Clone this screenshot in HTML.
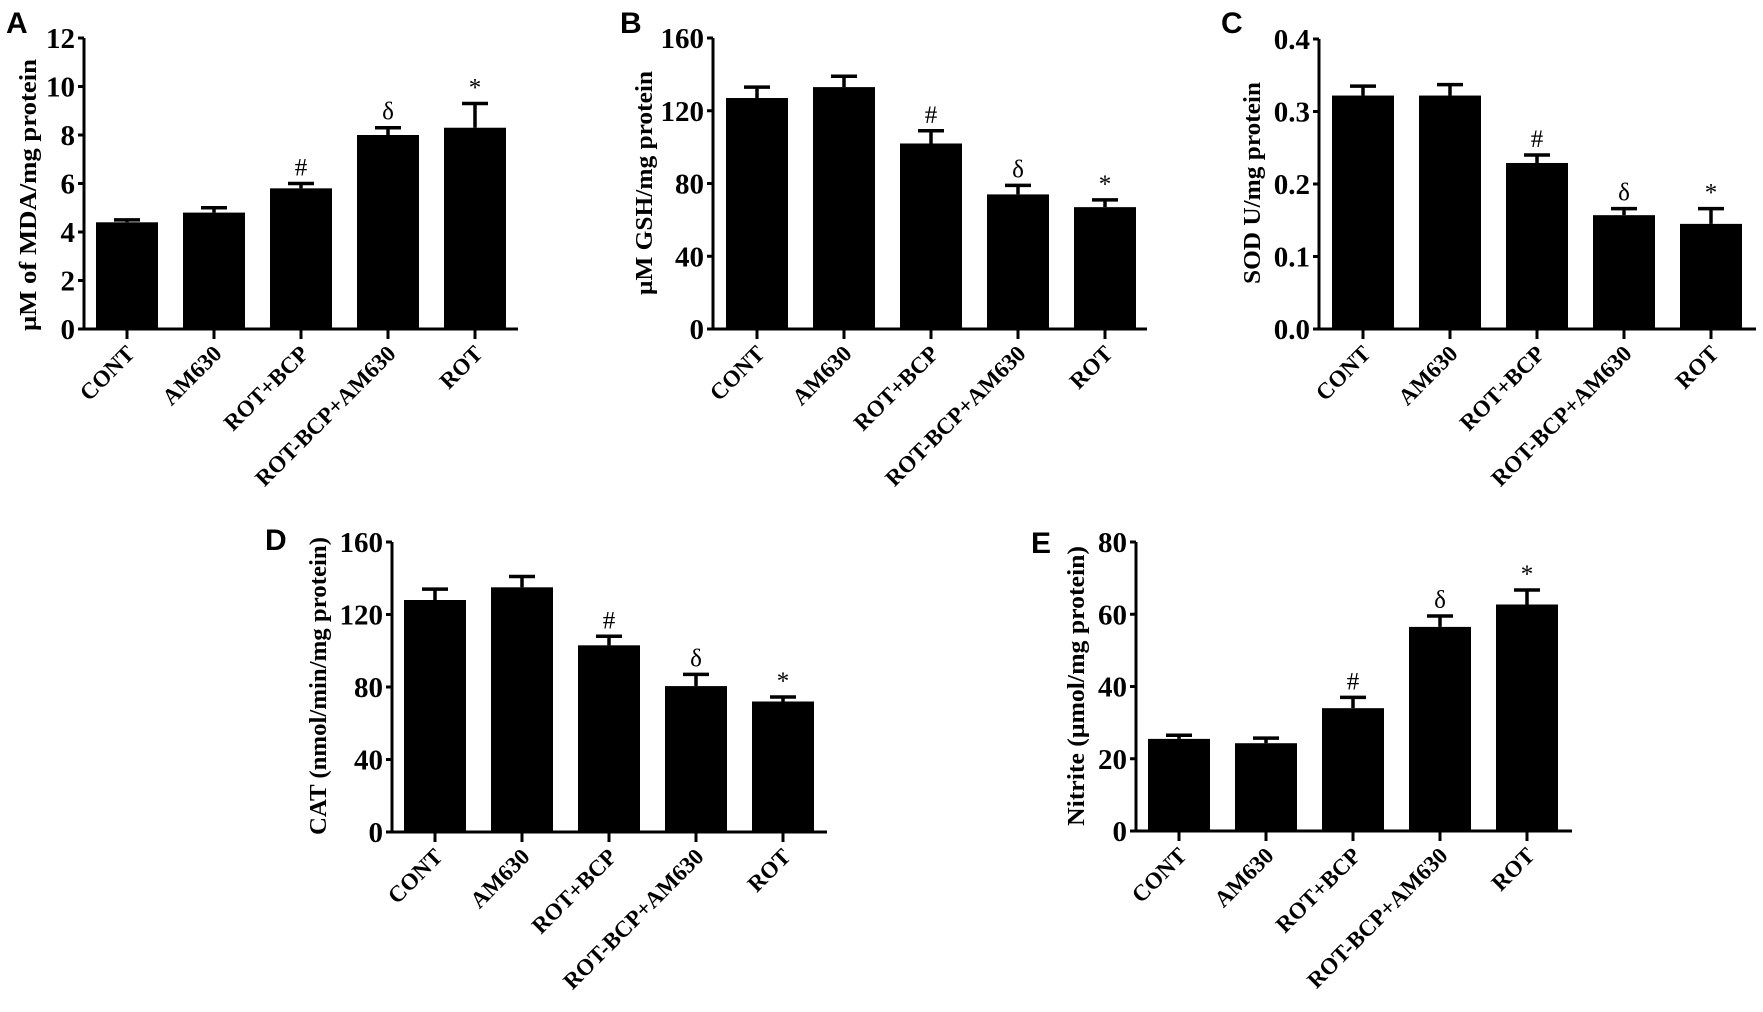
<!DOCTYPE html>
<html><head><meta charset="utf-8"><style>
html,body{margin:0;padding:0;background:#fff;}
svg{display:block;}
text{font-family:"Liberation Serif",serif;}
</style></head><body>
<svg id="fig" width="1763" height="1012" viewBox="0 0 1763 1012" xmlns="http://www.w3.org/2000/svg"></svg>
<script>
const categories = ["CONT","AM630","ROT+BCP","ROT-BCP+AM630","ROT"];
const marks = ["","","#","\u03b4","*"];
const mdaValues = [4.4,4.8,5.8,8.0,8.3];
const mdaErr = [0.1,0.2,0.2,0.3,1.0];
const gshValues = [127,133,102,74,67];
const gshErr = [6,6,7,5,4];
const sodValues = [0.322,0.322,0.229,0.157,0.145];
const sodErr = [0.013,0.015,0.011,0.009,0.021];
const catValues = [128,135,103,80.5,72];
const catErr = [6,6,5,6.5,2.5];
const nitValues = [25.5,24.3,34,56.5,62.7];
const nitErr = [1,1.4,3,3,4];
const mdaTicks = [0,2,4,6,8,10,12];
const gshTicks = [0,40,80,120,160];
const sodTicks = [0.0,0.1,0.2,0.3,0.4];
const catTicks = [0,40,80,120,160];
const nitTicks = [0,20,40,60,80];

const NS="http://www.w3.org/2000/svg";
const svg=document.getElementById('fig');
function mk(tag,attrs,parent){const e=document.createElementNS(NS,tag);for(const k in attrs)e.setAttribute(k,attrs[k]);(parent||svg).appendChild(e);return e;}

function panel(cfg){
  const g=mk('g',{});
  
  
  const yMax=cfg.ticks[cfg.ticks.length-1];
  const ys=v=>cfg.y0-(v/yMax)*(cfg.y0-cfg.yTop);
  const barW=cfg.barW, step=cfg.step;
  const xc=i=>cfg.firstBar+barW/2+i*step;
  const L=mk('text',{x:cfg.lx,y:cfg.ly,'font-weight':'bold','font-size':30,style:'font-family:"Liberation Sans",sans-serif'},g);
  L.textContent=cfg.letter;
  
  
  const t=mk('text',{x:0,y:0,transform:`translate(${cfg.tx},${cfg.ty}) rotate(-90)`,'text-anchor':'middle','font-weight':'bold','font-size':24,textLength:cfg.tLen,lengthAdjust:'spacingAndGlyphs'},g);
  t.textContent=cfg.title;
  
  
  cfg.values.forEach((v,i)=>{
    const x=xc(i)-barW/2;
    const r=mk('rect',{x:x,y:ys(v),width:barW,height:cfg.y0-ys(v),fill:'#000'},g);
    
    
    const top=ys(v+cfg.err[i]);
    const el=mk('path',{d:`M${xc(i)},${ys(v)}V${top}M${xc(i)-13},${top}H${xc(i)+13}`,stroke:'#000','stroke-width':3.5,fill:'none'},g);
    
    
    if(marks[i]){
      const m=mk('text',{x:xc(i),y:top-8,'text-anchor':'middle','font-size':25},g);
      m.textContent=marks[i];
      
      
    }
    const tk=mk('line',{x1:xc(i),x2:xc(i),y1:cfg.y0,y2:cfg.y0+10,stroke:'#000','stroke-width':3},g);
    
    
    const lb=mk('text',{x:0,y:0,transform:`translate(${xc(i)+9},${cfg.y0+26}) rotate(-45)`,'text-anchor':'end','font-weight':'bold','font-size':23},g);
    lb.textContent=categories[i];
    
    
  });
  const ya=mk('line',{x1:cfg.ax,x2:cfg.ax,y1:cfg.yTop,y2:cfg.y0+1.5,stroke:'#000','stroke-width':3},g);
  
  
  const xa=mk('line',{x1:cfg.ax-1.5,x2:cfg.axEnd,y1:cfg.y0,y2:cfg.y0,stroke:'#000','stroke-width':3},g);
  
  
  cfg.ticks.forEach(tv=>{
    const y=ys(tv);
    const tl=mk('line',{x1:cfg.ax-6,x2:cfg.ax,y1:y,y2:y,stroke:'#000','stroke-width':3},g);
    
    
    const tt=mk('text',{x:cfg.ax-9,y:y+10,'text-anchor':'end','font-weight':'bold','font-size':29},g);
    tt.textContent=cfg.fmt(tv);
    
    
  });
}
const intf=v=>String(v), f1=v=>v.toFixed(1);
panel({letter:'A',lx:6,ly:33,title:'\u03bcM of MDA/mg protein',tx:36,ty:195,tLen:272,values:mdaValues,err:mdaErr,ticks:mdaTicks,fmt:intf,ax:84,axEnd:518,yTop:38,y0:329,firstBar:96,barW:62,step:87});
panel({letter:'B',lx:620,ly:33,title:'\u03bcM GSH/mg protein',tx:652,ty:183,tLen:224,values:gshValues,err:gshErr,ticks:gshTicks,fmt:intf,ax:713,axEnd:1147,yTop:38,y0:329,firstBar:726,barW:62,step:87});
panel({letter:'C',lx:1221,ly:33,title:'SOD U/mg protein',tx:1260,ty:183,tLen:202,values:sodValues,err:sodErr,ticks:sodTicks,fmt:f1,ax:1319,axEnd:1756,yTop:39,y0:329,firstBar:1332,barW:62,step:87});
panel({letter:'D',lx:265,ly:550,title:'CAT (nmol/min/mg protein)',tx:326,ty:686,tLen:298,values:catValues,err:catErr,ticks:catTicks,fmt:intf,ax:392,axEnd:827,yTop:542,y0:832,firstBar:404,barW:62,step:87});
panel({letter:'E',lx:1031,ly:553,title:'Nitrite (\u03bcmol/mg protein)',tx:1084,ty:686,tLen:280,values:nitValues,err:nitErr,ticks:nitTicks,fmt:intf,ax:1136,axEnd:1572,yTop:542,y0:831,firstBar:1148,barW:62,step:87});
</script>
</body></html>
